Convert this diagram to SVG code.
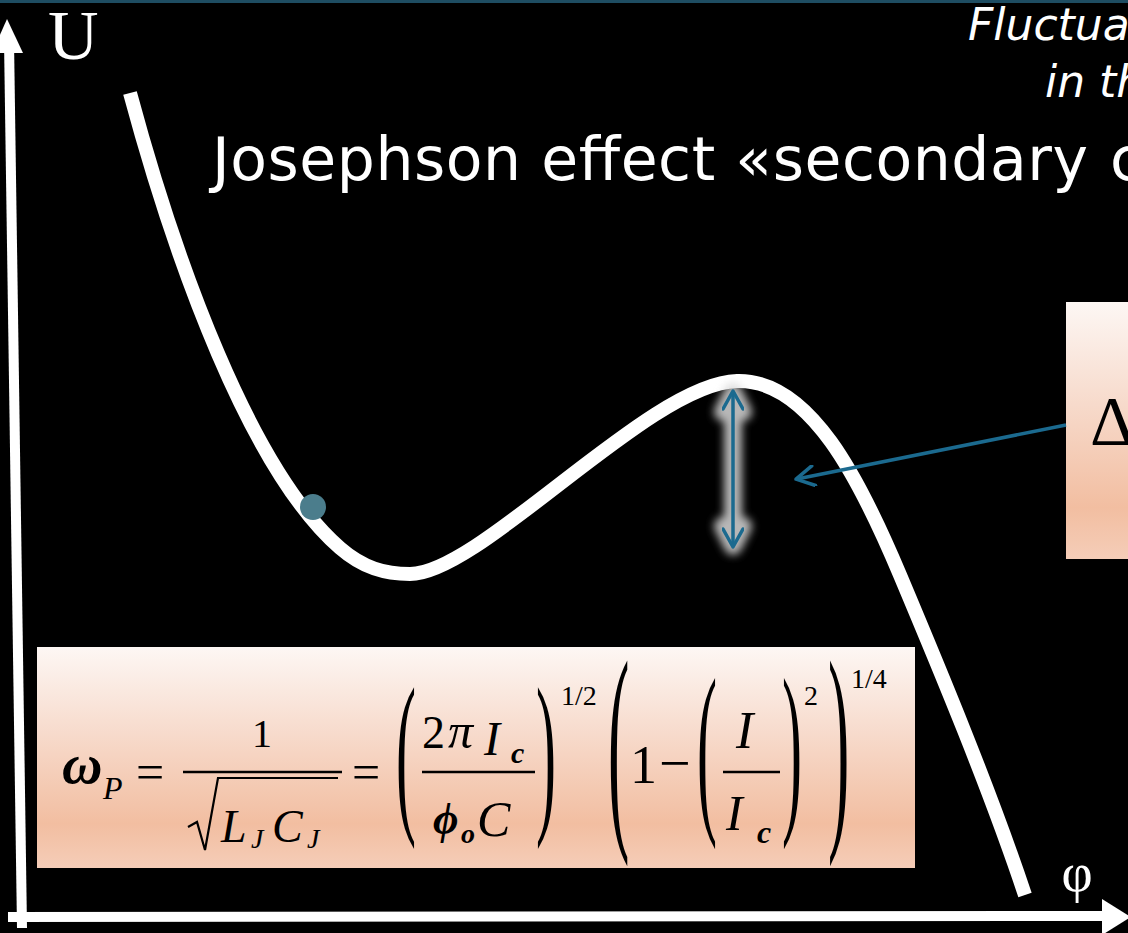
<svg xmlns="http://www.w3.org/2000/svg" width="1128" height="933" viewBox="0 0 1128 933">
<style>
.ttl{font-family:"DejaVu Sans","Liberation Sans",sans-serif;fill:#ffffff}
.ser{font-family:"Liberation Serif","Times New Roman",serif;fill:#ffffff}
.m{font-family:"Liberation Serif","Times New Roman",serif;fill:#000000}
.i{font-style:italic}
.b{font-weight:bold}
.conn{fill:none;stroke:#1b6a8f;stroke-width:3.5}
</style>
<defs>
<linearGradient id="peach" x1="0" y1="0" x2="0" y2="1">
<stop offset="0" stop-color="#fdf7f4"/>
<stop offset="0.4" stop-color="#f7dacb"/>
<stop offset="0.8" stop-color="#f2bea1"/>
<stop offset="1" stop-color="#f5cdb8"/>
</linearGradient>
<filter id="glow" x="-2" y="-0.5" width="5" height="2">
<feGaussianBlur stdDeviation="4"/>
</filter>
<marker id="chev" viewBox="0 0 22 22" refX="19" refY="11" markerWidth="22" markerHeight="22" markerUnits="userSpaceOnUse" orient="auto-start-reverse">
<path d="M2,1 L20,11 L2,21" fill="none" stroke="#1b6a8f" stroke-width="3.5" stroke-linecap="round" stroke-linejoin="round"/>
</marker>
</defs>
<rect x="0" y="0" width="1128" height="933" fill="#000000"/>
<rect x="0" y="0" width="1128" height="3" fill="#1e4d62"/>

<g id="axes">
<line x1="22" y1="928" x2="9" y2="40" stroke="#ffffff" stroke-width="10"/>
<polygon points="7,19 23,53 -8,53" fill="#ffffff"/>
<line x1="8" y1="917" x2="1108" y2="916" stroke="#ffffff" stroke-width="10"/>
<polygon points="1131,917 1102,899 1102,935" fill="#ffffff"/>
<text class="ser" x="48" y="59" font-size="70">U</text>
<text class="ser" x="1077" y="891" font-size="54" text-anchor="middle">φ</text>
</g>

<g id="title">
<text class="ttl" x="968" y="40" font-size="44" font-style="italic">Fluctua</text>
<text class="ttl" x="1045" y="97" font-size="44" font-style="italic">in th</text>
<text class="ttl" x="212" y="180" font-size="60" textLength="876" lengthAdjust="spacing">Josephson effect «secondary</text>
<text class="ttl" x="1110" y="180" font-size="60">c</text>
</g>

<g id="potential-curve">
<path d="M130,93 C175,260 250,470 340,548 C363,568 385,574 410,574 C480,574 650,383 737,381 C810,379 860,480 900,575 C940,670 990,790 1025,895" fill="none" stroke="#ffffff" stroke-width="14" stroke-linejoin="round"/>
</g>

<g id="particle">
<circle cx="313" cy="507" r="13" fill="#4b7d8c"/>
</g>

<g id="delta-box">
<rect x="1066" y="302" width="70" height="257" fill="url(#peach)"/>
<text class="m" x="1090" y="445" font-size="70">Δ</text>
</g>

<g id="formula-box">
<rect x="37" y="647" width="878" height="221" fill="url(#peach)"/>
<text class="m i b" x="62" y="783" font-size="56">ω</text>
<text class="m i" x="103" y="799" font-size="32">P</text>
<text class="m" x="136" y="789" font-size="50">=</text>
<text class="m" x="262" y="747" font-size="40" text-anchor="middle">1</text>
<line x1="183" y1="772" x2="342" y2="772" stroke="#000" stroke-width="2.5"/>
<path d="M188,827 L197,822 L205,850 L218,778 L338,778" fill="none" stroke="#000" stroke-width="2.2" stroke-linejoin="miter"/>
<text class="m i" x="221" y="842" font-size="46">L</text>
<text class="m i" x="251" y="848" font-size="28">J</text>
<text class="m i" x="272" y="842" font-size="46">C</text>
<text class="m i" x="307" y="848" font-size="28">J</text>
<text class="m" x="352" y="789" font-size="50">=</text>
<text class="m" transform="translate(396,810.5) scale(1,2.97)" font-size="60">(</text>
<text class="m" x="422" y="748" font-size="46">2</text>
<text class="m i" x="448" y="748" font-size="50">π</text>
<text class="m i" x="484" y="755" font-size="48">I</text>
<text class="m i b" x="511" y="763" font-size="30">c</text>
<line x1="422" y1="772" x2="535" y2="772" stroke="#000" stroke-width="2.5"/>
<text class="m i b" x="433" y="834" font-size="44">ϕ</text>
<text class="m i b" x="461" y="843" font-size="28">o</text>
<text class="m i" x="477" y="836" font-size="50">C</text>
<text class="m" transform="translate(536,810.5) scale(1,2.97)" font-size="60">)</text>
<text class="m" x="561" y="705" font-size="28">1/2</text>
<text class="m" transform="translate(608,817.5) scale(1,3.55)" font-size="64">(</text>
<text class="m" x="630" y="783" font-size="54">1</text>
<text class="m" x="659" y="782" font-size="56">−</text>
<text class="m" transform="translate(697,808.8) scale(1,3.13)" font-size="60">(</text>
<text class="m i" x="736" y="748" font-size="52">I</text>
<line x1="723" y1="772" x2="780" y2="772" stroke="#000" stroke-width="2.5"/>
<text class="m i" x="726" y="830" font-size="50">I</text>
<text class="m i b" x="757" y="843" font-size="32">c</text>
<text class="m" transform="translate(782,808.8) scale(1,3.13)" font-size="60">)</text>
<text class="m" x="804" y="705" font-size="28">2</text>
<text class="m" transform="translate(828,817.5) scale(1,3.55)" font-size="64">)</text>
<text class="m" x="851" y="688" font-size="28">1/4</text>
</g>

<g id="connectors">
<path d="M723,412 L733,392 L743,412 M733,392 L733,546 M723,526 L733,546 L743,526" fill="none" stroke="#d8d8d8" stroke-width="18" stroke-linecap="round" stroke-linejoin="round" filter="url(#glow)" opacity="0.85"/>
<path class="conn" d="M733,392 L733,546" marker-start="url(#chev)" marker-end="url(#chev)"/>
<path class="conn" d="M1066,425 L797,479" marker-end="url(#chev)"/>
</g>
</svg>
